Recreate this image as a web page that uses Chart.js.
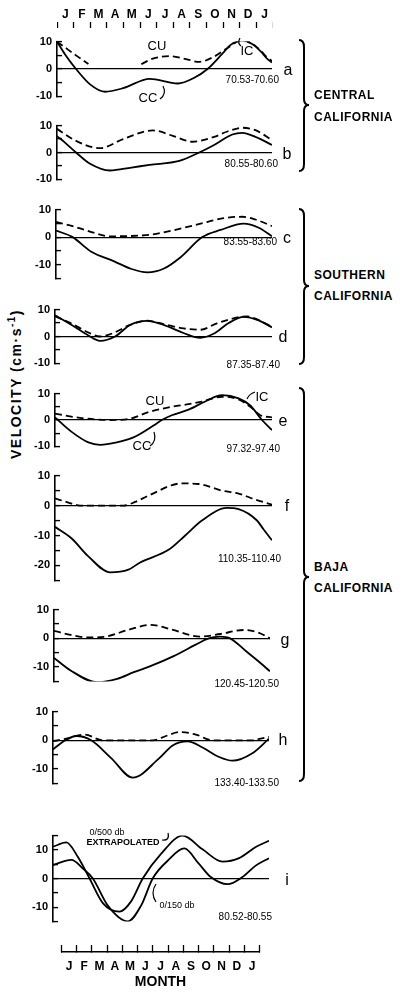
<!DOCTYPE html>
<html>
<head>
<meta charset="utf-8">
<script src="https://cdn.jsdelivr.net/npm/chart.js@4.4.0/dist/chart.umd.min.js"></script>
<style>
body { margin: 0; background: #fff; }
#fig { position: relative; width: 407px; height: 993px; overflow: hidden; background: #fff; font-family: "Liberation Sans", Arial, sans-serif; color: #000; }
#fig canvas { position: absolute; }
#fig svg { position: absolute; left: 0; top: 0; }
.t { position: absolute; white-space: nowrap; line-height: 1; }
</style>
</head>
<body>
<div id="fig"></div>
<script>
const monthLabels = ["J", "F", "M", "A", "M", "J", "J", "A", "S", "O", "N", "D", "J"];

// [month, velocity] (month 0 = start of Jan)
// a: 70.53-70.60
const aSolid = [[0,10],[0.5,5.2],[1.15,0],[2,-5.6],[2.9,-8.3],[4,-7],[5.6,-3.6],[7.3,-5.3],[8.3,-3.2],[9.1,0],[10,5.6],[10.5,8.8],[11.2,10.4],[11.8,9.1],[12.3,6.5],[12.7,3.8],[13,2.4]];
const aDash = [[0,10],[0.5,7.8],[1,5.6],[1.5,3.5],[1.9,1.8],[3,null],[5.1,1.8],[5.8,3.8],[6.8,4.7],[7.8,3.6],[8.6,2.6],[9.4,4.2],[10.3,7.6],[11.2,10.6],[11.8,9.3],[12.3,6.8],[12.7,4.2],[13,3]];
// b: 80.55-80.60
const bSolid = [[0,6.1],[0.5,3.6],[1.15,0],[2,-4.2],[3.2,-6.7],[4.5,-5.6],[5.6,-4.6],[7.4,-3.1],[8.6,0],[9.5,2.8],[10.6,6.7],[11.2,7.3],[12,5.8],[13,2.8]];
const bDash = [[0,8.8],[1,4.8],[2.6,1.6],[4,5],[5.8,8.2],[7,6.2],[8.2,4],[9.5,5.8],[10.3,7.8],[11.2,9.2],[12,8.3],[13,4.6]];
// c: 83.55-83.60
const cSolid = [[0,2.4],[1,0],[2.1,-5.2],[3.5,-8.8],[4.5,-11.5],[5.5,-12.8],[6.5,-11.4],[7.5,-7.3],[8.8,0],[9.9,2.6],[11.3,4.9],[12.2,3.4],[13,0.3]];
const cDash = [[0,5.5],[1,4],[2,2.1],[3.2,0.3],[4.5,0.4],[5.7,0.9],[7,2.4],[8.7,4.9],[10,6.8],[11.2,7.4],[12,6.4],[13,4]];
// d: 87.35-87.40
const dSolid = [[0,7.9],[1,4.3],[2,0.4],[2.7,-1.6],[3.6,0],[4.5,4.3],[5.5,5.8],[6.5,4.3],[7.7,1.3],[8.7,-0.5],[9.5,1],[10.4,5],[11.3,7.3],[12.2,6],[13,3.4]];
const dDash = [[0,7.5],[1,4.8],[2,1.5],[2.7,0],[3.5,1.3],[4.5,4.3],[5.5,5.9],[6.5,4.6],[7.7,3],[8.7,2.5],[9.7,4.9],[11.1,7.3],[11.5,7.5],[12.2,6.1],[13,3.5]];
// e: 97.32-97.40
const eSolid = [[0,1],[1,-4.5],[2,-8.5],[2.7,-9.4],[3.7,-8.5],[4.7,-6.6],[5.9,-2.1],[6.4,0],[7,1.8],[8,3.9],[9,7],[10,9.4],[11,8.2],[11.7,5.5],[12.4,0],[13,-3.8]];
const eDash = [[0,2.4],[0.5,1.8],[1.5,0.8],[3.3,0],[4.5,0.5],[5.6,3],[7,5],[8,6],[8.8,7],[10,8.8],[11,7.8],[11.7,5],[12.3,1.8],[13,1]];
// f: 110.35-110.40
const fSolid = [[0,-7.1],[1,-11],[2,-17],[3.3,-22.3],[4.4,-21.4],[5.1,-19],[6.8,-14.8],[7.8,-10],[8.8,-5],[10.3,-0.8],[11,-1.2],[12.1,-5],[12.5,-8],[13,-11.6]];
const fDash = [[0,2.4],[0.8,1],[1.5,0],[4.1,0],[4.8,1.2],[5.6,3.3],[7.6,7.4],[8.6,7.2],[10,5],[11,4],[12,2],[13,0.3]];
// g: 120.45-120.50
const gSolid = [[0,-6.8],[1,-11.2],[2.6,-15.3],[3.8,-14.1],[4.8,-11.8],[5.8,-9.7],[7.2,-6.2],[8.5,-2.3],[9.3,0],[10,0.6],[10.6,0],[11.6,-4.7],[12.3,-8],[13,-11.5]];
const gDash = [[0,2.6],[1,1.2],[2,0.3],[3,0.5],[4.5,3],[5.8,4.7],[7,3.2],[8.8,0.6],[10,1.5],[11.4,2.9],[12.3,2],[13,0]];
// h: 133.40-133.50
const hSolid = [[0,-3.2],[0.6,-0.5],[1.4,1.5],[2.3,0],[3.5,-6.2],[4.8,-13],[6.4,-6.2],[7.2,-1.8],[8.1,-0.4],[9,-2.5],[10,-5.8],[10.8,-7.1],[12,-4.5],[13,0.6]];
const hDash = [[0,-0.3],[0.8,0.6],[1.9,2],[3,0],[6,0],[6.8,1.5],[7.6,2.9],[8.6,2],[9.6,0],[12,0],[12.5,0.6],[13,1.2]];
// i: 80.52-80.55, 0/500 db extrapolated and 0/150 db
const i500 = [[0,11.1],[0.8,12.6],[1.5,7.5],[2.2,0],[3,-8.6],[4,-11.6],[4.7,-8],[5.4,0],[6.5,8.6],[7.8,15],[9,10.2],[10.2,5.9],[11.2,7.1],[12.2,11],[13,13.2]];
const i150 = [[0,4.7],[1.1,6.5],[1.8,3.5],[2.4,0],[3.3,-9.5],[4.5,-15],[5.3,-9.5],[6,0],[6.9,6.2],[7.9,10.5],[8.8,5],[9.5,0.5],[10.5,-2],[11.4,0.5],[12.2,4.5],[13,7.1]];

// panel placement on the page
const panels = [
	{ left: 57, right: 272, top: 35, bottom: 103, min: -10, max: 10, lines: [aSolid, aDash], dashed: [false, true] },
	{ left: 57, right: 272, top: 119, bottom: 186, min: -10, max: 10, lines: [bSolid, bDash], dashed: [false, true] },
	{ left: 56, right: 272, top: 203, bottom: 285, min: -15, max: 10, lines: [cSolid, cDash], dashed: [false, true] },
	{ left: 55, right: 272, top: 303, bottom: 370, min: -10, max: 10, lines: [dSolid, dDash], dashed: [false, true] },
	{ left: 55, right: 272, top: 387, bottom: 453, min: -10, max: 10, lines: [eSolid, eDash], dashed: [false, true] },
	{ left: 55, right: 272, top: 469, bottom: 587, min: -25, max: 10, lines: [fSolid, fDash], dashed: [false, true] },
	{ left: 54, right: 270, top: 603, bottom: 688, min: -15, max: 10, lines: [gSolid, gDash], dashed: [false, true] },
	{ left: 53, right: 269, top: 705, bottom: 790, min: -15, max: 10, lines: [hSolid, hDash], dashed: [false, true] },
	{ left: 53, right: 269, top: 829, bottom: 928, min: -15, max: 15, lines: [i500, i150], dashed: [false, false] },
];

const fig = document.getElementById("fig");
const AXW = 30;

function makeCanvas(left, top, w, h) {
	const cv = document.createElement("canvas");
	cv.width = w;
	cv.height = h;
	cv.style.left = left + "px";
	cv.style.top = top + "px";
	cv.style.width = w + "px";
	cv.style.height = h + "px";
	fig.appendChild(cv);
	return cv;
}

panels.forEach(function (p) {
	const cv = makeCanvas(p.left - AXW, p.top - 10, p.right - p.left + AXW, p.bottom - p.top + 20);
	new Chart(cv, {
		type: "line",
		data: {
			datasets: p.lines.map(function (line, k) {
				return {
					data: line.map(function (pt) { return { x: pt[0], y: pt[1] }; }),
					borderColor: "#000",
					borderWidth: 1.8,
					borderDash: p.dashed[k] ? [7, 4] : [],
					pointRadius: 0,
					cubicInterpolationMode: "monotone",
					spanGaps: false,
					fill: false,
				};
			}),
		},
		options: {
			responsive: false,
			animation: false,
			events: [],
			layout: { padding: { top: 10, bottom: 10, left: 0, right: 0 } },
			plugins: { legend: { display: false }, tooltip: { enabled: false } },
			scales: {
				x: { type: "linear", min: 0, max: 13, display: false },
				y: {
					min: p.min,
					max: p.max,
					afterFit: function (s) { s.width = AXW; },
					border: { display: true, color: "#000", width: 1.6 },
					grid: {
						drawOnChartArea: true,
						color: function (c) { return c.tick && c.tick.value === 0 ? "#000" : "rgba(0,0,0,0)"; },
						lineWidth: 1.2,
						tickColor: "#000",
						tickWidth: 1.4,
						tickLength: -5,
					},
					ticks: {
						stepSize: 5,
						padding: 10,
						color: "#000",
						font: { family: "Liberation Sans", size: 11, weight: "bold" },
						callback: function (v) { return v % 10 === 0 ? String(v) : ""; },
					},
				},
			},
		},
	});
});

// month axis along the top
const topCv = makeCanvas(57, 1, 216, 32);
new Chart(topCv, {
	type: "line",
	data: { labels: monthLabels, datasets: [] },
	options: {
		responsive: false,
		animation: false,
		events: [],
		layout: { padding: 0 },
		plugins: { legend: { display: false }, tooltip: { enabled: false } },
		scales: {
			x: {
				type: "category",
				position: "top",
				offset: true,
				afterFit: function (s) { s.height = 27; },
				border: { display: false },
				grid: { offset: true, drawOnChartArea: false, tickLength: 6, tickColor: "#000", tickWidth: 1.3 },
				ticks: { color: "#000", padding: 0, maxRotation: 0, autoSkip: false, font: { family: "Liberation Sans", size: 12, weight: "bold" } },
			},
			y: { display: false },
		},
	},
});

// month axis at the bottom
const botCv = makeCanvas(52, 930, 217, 63);
new Chart(botCv, {
	type: "line",
	data: { labels: monthLabels, datasets: [] },
	options: {
		responsive: false,
		animation: false,
		events: [],
		layout: { padding: 0 },
		plugins: { legend: { display: false }, tooltip: { enabled: false } },
		scales: {
			x: {
				type: "category",
				position: "bottom",
				offset: true,
				afterFit: function (s) { s.height = 41; },
				border: { display: true, color: "#000", width: 1.6 },
				grid: { offset: true, drawOnChartArea: false, tickLength: -7, tickColor: "#000", tickWidth: 1.3 },
				ticks: { color: "#000", padding: 14, maxRotation: 0, autoSkip: false, font: { family: "Liberation Sans", size: 12, weight: "bold" } },
				title: { display: true, text: "MONTH", color: "#000", padding: { top: 0, bottom: 2 }, font: { family: "Liberation Sans", size: 14, weight: "bold" } },
			},
			y: { display: false },
		},
	},
});

// text labels
function addText(str, x, y, size, align, extra) {
	const d = document.createElement("div");
	d.className = "t";
	d.innerHTML = str;
	d.style.fontSize = size + "px";
	d.style.left = x + "px";
	d.style.top = y + "px";
	const tx = align === "l" ? "0" : align === "r" ? "-100%" : "-50%";
	d.style.transform = "translate(" + tx + ",-50%)";
	if (extra) Object.assign(d.style, extra);
	fig.appendChild(d);
	return d;
}

const stationLabels = [
	["70.53-70.60", 279, 80], ["80.55-80.60", 278, 164], ["83.55-83.60", 277, 242],
	["87.35-87.40", 280, 365], ["97.32-97.40", 280, 449], ["110.35-110.40", 281, 559],
	["120.45-120.50", 279, 684], ["133.40-133.50", 279, 783], ["80.52-80.55", 272, 917],
];
stationLabels.forEach(function (s) { addText(s[0], s[1], s[2], 10, "r"); });

const panelLetters = [["a", 288, 70], ["b", 287, 154], ["c", 287, 238], ["d", 283, 337], ["e", 283, 421], ["f", 287, 506], ["g", 285, 640], ["h", 283, 740], ["i", 287, 880]];
panelLetters.forEach(function (s) { addText(s[0], s[1], s[2], 16, "c"); });

[["CU", 157, 45], ["IC", 247, 50], ["CC", 148, 97], ["CU", 155, 400], ["IC", 262, 396], ["CC", 142, 445]].forEach(function (s) {
	addText(s[0], s[1], s[2], 13, "c");
});

addText("0/500 db", 107, 832, 9, "c");
addText("EXTRAPOLATED", 123, 842, 9, "c", { fontWeight: "bold" });
addText("0/150 db", 177, 905, 9, "c");

const regionStyle = { fontWeight: "bold", letterSpacing: "0.5px" };
[["CENTRAL", 95], ["CALIFORNIA", 117], ["SOUTHERN", 275], ["CALIFORNIA", 296], ["BAJA", 567], ["CALIFORNIA", 588]].forEach(function (s) {
	addText(s[0], 314, s[1], 12, "l", regionStyle);
});

addText("VELOCITY (cm&middot;s<sup style=\"font-size:10px\">-1</sup>)", 15, 384, 14, "c", { transform: "translate(-50%,-50%) rotate(-90deg)", fontWeight: "bold", letterSpacing: "1.5px" });

// braces and small leader hooks
function brace(x, y1, ym, y2) {
	return "M" + (x - 5) + "," + y1 + " Q" + x + "," + y1 + " " + x + "," + (y1 + 7) +
		" L" + x + "," + (ym - 6) + " Q" + x + "," + ym + " " + (x + 5) + "," + ym +
		" Q" + x + "," + ym + " " + x + "," + (ym + 6) +
		" L" + x + "," + (y2 - 7) + " Q" + x + "," + y2 + " " + (x - 5) + "," + y2;
}
const ns = "http://www.w3.org/2000/svg";
const svg = document.createElementNS(ns, "svg");
svg.setAttribute("width", "407");
svg.setAttribute("height", "993");
const paths = [
	[brace(304, 40, 105, 171), 2],
	[brace(304, 209, 286, 364), 2],
	[brace(304, 388, 577, 781), 2],
	["M160,99 Q167,94 163,86", 1.2],
	["M150,446 Q157,441 154,432", 1.2],
	["M255,392 Q249,394 247,399", 1.2],
	["M241,46 Q237,43 240,38", 1.2],
	["M162,840 Q170,841 168,833", 1.2],
	["M156,902 Q150,893 156,884", 1.2],
];
paths.forEach(function (p) {
	const el = document.createElementNS(ns, "path");
	el.setAttribute("d", p[0]);
	el.setAttribute("fill", "none");
	el.setAttribute("stroke", "#000");
	el.setAttribute("stroke-width", p[1]);
	svg.appendChild(el);
});
fig.appendChild(svg);
</script>
</body>
</html>
